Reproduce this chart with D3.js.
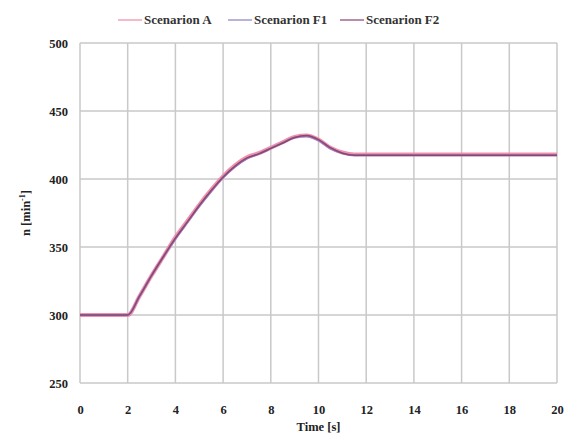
<!DOCTYPE html>
<html><head><meta charset="utf-8">
<script src="https://cdn.jsdelivr.net/npm/d3@7/dist/d3.min.js"></script>
<style>body{margin:0;background:#fff}</style>
</head><body>
<svg id="c" width="569" height="438"></svg>
<script>
const seriesNames = ["Scenarion A", "Scenarion F1", "Scenarion F2"];
const time = [0, 1, 2, 2.5, 3, 3.5, 4, 4.5, 5, 5.5, 6, 6.5, 7, 7.5, 8, 8.5, 9, 9.5, 10, 10.5, 11, 11.5, 12, 13, 14, 15, 16, 17, 18, 19, 20];
const scenarioA  = [300, 300, 300, 314, 329, 343, 357, 369, 381, 392, 402, 410, 416, 419, 423, 427, 431, 432, 429, 423, 419.5, 418, 418, 418, 418, 418, 418, 418, 418, 418, 418];
const scenarioF1 = [300, 300, 300, 314, 329, 343, 356, 368, 380, 391, 401, 409, 415, 418.5, 422.5, 426.5, 430.5, 431.5, 428.5, 422.5, 419, 417.5, 417.5, 417.5, 417.5, 417.5, 417.5, 417.5, 417.5, 417.5, 417.5];
const scenarioF2 = [300, 300, 300, 314, 329, 343, 356.5, 368.5, 380.5, 391.5, 401.5, 409.5, 415.5, 418.5, 422.5, 426.5, 430.5, 432, 429, 423, 419, 417.5, 417.5, 417.5, 417.5, 417.5, 417.5, 417.5, 417.5, 417.5, 417.5];
const xTicks = [0, 2, 4, 6, 8, 10, 12, 14, 16, 18, 20];
const yTicks = [250, 300, 350, 400, 450, 500];

const svg = d3.select("#c");
const L = 80, R = 557, T = 43, B = 383;
const x = d3.scaleLinear().domain([0, 20]).range([L, R]);
const y = d3.scaleLinear().domain([250, 500]).range([B, T]);
const font = "'Liberation Serif', 'Times New Roman', serif";

// grid
svg.append("g").selectAll("line").data(xTicks).join("line")
  .attr("x1", d => x(d)).attr("x2", d => x(d)).attr("y1", T).attr("y2", B)
  .attr("stroke", "#c9c9c9").attr("stroke-width", 1.5);
svg.append("g").selectAll("line").data(yTicks).join("line")
  .attr("y1", d => y(d)).attr("y2", d => y(d)).attr("x1", L).attr("x2", R)
  .attr("stroke", "#c9c9c9").attr("stroke-width", 1.5);

// axes labels
const xa = svg.append("g").attr("transform", `translate(0,${B})`)
  .call(d3.axisBottom(x).tickValues(xTicks).tickSize(0).tickPadding(22));
const ya = svg.append("g").attr("transform", `translate(${L},0)`)
  .call(d3.axisLeft(y).tickValues(yTicks).tickSize(0).tickPadding(12));
[xa, ya].forEach(a => {
  a.select(".domain").remove();
  a.selectAll("text").attr("font-family", font).attr("font-weight", "bold")
    .attr("font-size", 12.5).attr("fill", "#222");
});

// lines
const data = [
  {name: seriesNames[0], vals: scenarioA, color: "#ef8aa6", w: 4},
  {name: seriesNames[1], vals: scenarioF1, color: "#8c7fc4", w: 2},
  {name: seriesNames[2], vals: scenarioF2, color: "#8a4270", w: 1.5}
];
const line = d3.line().x((d, i) => x(time[i])).y(d => y(d)).curve(d3.curveMonotoneX);
svg.append("g").selectAll("path").data(data).join("path")
  .attr("d", d => line(d.vals)).attr("fill", "none")
  .attr("stroke", d => d.color).attr("stroke-width", d => d.w)
  .attr("stroke-opacity", 0.95);

// legend
const legX = [118, 228, 340];
const lg = svg.append("g").selectAll("g").data(data).join("g")
  .attr("transform", (d, i) => `translate(${legX[i]},20)`);
lg.append("line").attr("x1", 0).attr("x2", 24).attr("y1", 0).attr("y2", 0)
  .attr("stroke", d => d.color).attr("stroke-width", 1.2);
lg.append("text").attr("x", 26).attr("y", 4).text(d => d.name)
  .attr("font-family", font).attr("font-weight", "bold").attr("font-size", 13).attr("fill", "#333");

// axis titles
svg.append("text").attr("x", (L + R) / 2).attr("y", 431).attr("text-anchor", "middle")
  .attr("font-family", font).attr("font-weight", "bold").attr("font-size", 12.5).attr("fill", "#222")
  .text("Time [s]");
const yt = svg.append("text").attr("transform", `translate(30,${(T + B) / 2}) rotate(-90)`)
  .attr("text-anchor", "middle").attr("font-family", font).attr("font-weight", "bold")
  .attr("font-size", 12.5).attr("fill", "#222");
yt.append("tspan").text("n [min");
yt.append("tspan").attr("dy", -5).attr("font-size", 8).text("-1");
yt.append("tspan").attr("dy", 5).text("]");
</script>
</body></html>
